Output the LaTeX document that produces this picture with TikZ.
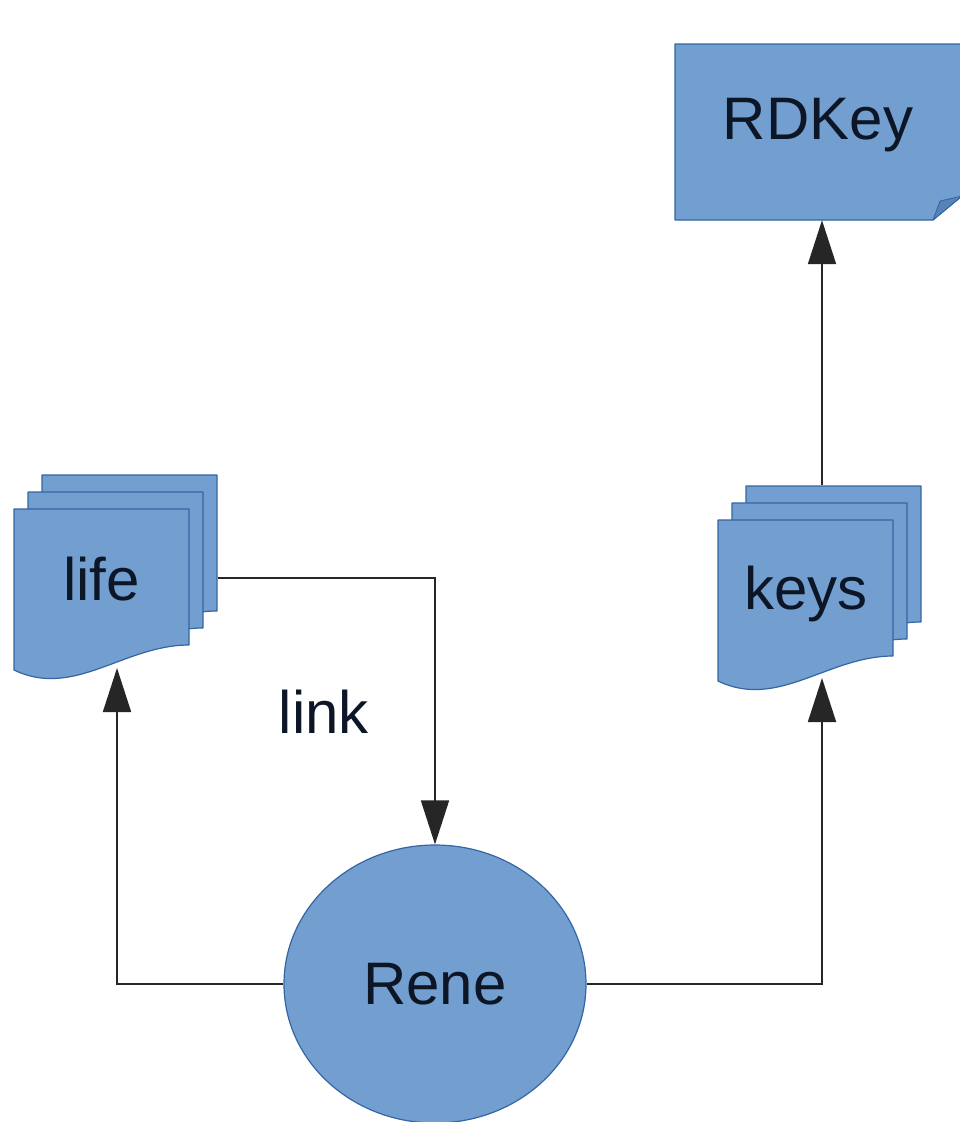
\documentclass[tikz,border=0pt]{standalone}
\usepackage{fontspec}
\setmainfont{Liberation Sans}
\usetikzlibrary{arrows.meta,shapes.geometric}
\definecolor{shapefill}{HTML}{729FCF}
\definecolor{shapeline}{HTML}{3465A4}
\definecolor{folddark}{HTML}{5582B8}
\definecolor{textcol}{HTML}{0D1626}
\pgfdeclarelayer{background}
\pgfdeclarelayer{canvas}
\pgfsetlayers{canvas,background,main}
\tikzset{
  lbl/.style={font=\fontsize{60}{72}\selectfont, text=textcol, inner sep=0pt},
  docnode/.style={lbl, anchor=north west, minimum width=175pt, minimum height=140pt},
  shapestyle/.style={fill=shapefill, draw=shapeline, line width=1.2pt, line join=round},
  arr/.style={draw=black!85, line width=1.8pt, -{Triangle[length=44pt,width=28pt]}},
}
\newcommand\docpath[2]{% #1 = x offset, #2 = y offset (relative to front page)
  \path[shapestyle, shift={(#1,#2)}] (0,0) -- (175,0) -- (175,136)
    .. controls (110,136) and (60,190) .. (0,161) -- cycle;}
\newcommand\multidoc[1]{%
  \begin{scope}[shift={(#1.north west)}]
    \docpath{28}{-34}
    \docpath{14}{-17}
    \docpath{0}{0}
  \end{scope}}
\begin{document}
\begin{tikzpicture}[x=1pt,y=-1pt]
  \useasboundingbox (0,0) rectangle (960,1122);
  \begin{pgfonlayer}{canvas}
    \fill[white] (0,0) rectangle (960,1122);
  \end{pgfonlayer}

  % nodes
  \node[lbl, minimum width=286pt, minimum height=190pt] (rdkey) at (818,125) {RDKey};
  \node[docnode] (life) at (14,509) {life};
  \node[docnode, yshift=-4pt] (keys) at (718,520) {keys};
  \node[lbl, ellipse, shapestyle, minimum width=302pt, minimum height=278pt] (rene) at (435,984) {Rene};
  \node[lbl] (link) at (324,712) {link};

  % free connector ends
  \coordinate (lifeIn) at (117,668);
  \coordinate (lifeOut) at (218,578);
  \coordinate (keysIn) at (822,678);
  \coordinate (keysOut) at (822,485);

  \begin{pgfonlayer}{background}
    % RDKey note with folded corner
    \path[shapestyle] (675,44) -- (962,44) -- (962,196) -- (933,220) -- (675,220) -- cycle;
    \path[fill=folddark, draw=shapeline, line width=0.8pt, line join=round]
      (933,220) -- (962,196) -- (940,201) -- cycle;
    \multidoc{life}
    \begin{scope}[shift={(718,520)}]
      \docpath{28}{-34}
      \docpath{14}{-17}
      \docpath{0}{0}
    \end{scope}
  \end{pgfonlayer}

  % connectors
  \draw[arr] (rene.west) -| (lifeIn);
  \draw[arr] (lifeOut) -| (rene.north);
  \draw[arr] (rene.east) -| (keysIn);
  \draw[arr] (keysOut) -- (keysOut |- rdkey.south);
\end{tikzpicture}
\end{document}
